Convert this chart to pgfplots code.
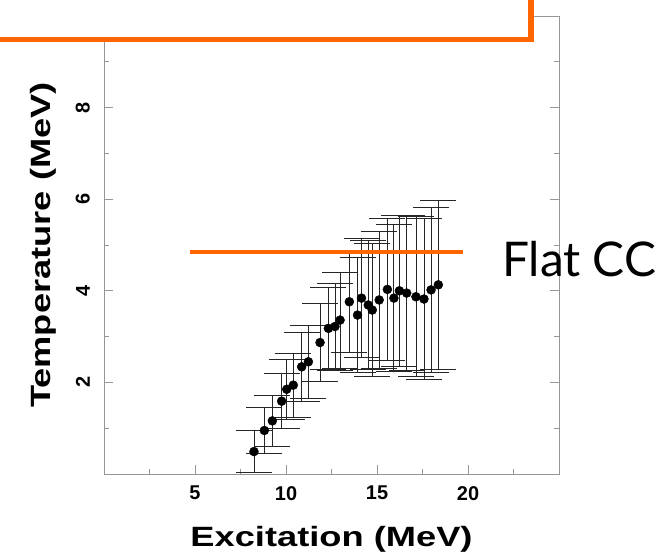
\documentclass[border=0pt]{standalone}
\usepackage{fontspec}
\setmainfont{Liberation Sans}
\newfontfamily\annfont{Lato}
\usepackage{graphicx}
\usepackage{pgfplots}
\usepackage{pgfplotstable}
\pgfplotsset{compat=1.18}
\definecolor{hiorange}{RGB}{255,102,0}
\definecolor{axgray}{RGB}{150,150,150}

% caloric curve: excitation energy, temperature, temperature uncertainty
\pgfplotstableread{
x      y     e
8.24   0.49  0.45
8.81   0.95  0.50
9.25   1.16  0.55
9.76   1.59  0.60
10.04  1.85  0.65
10.40  1.94  0.70
10.86  2.34  0.75
11.23  2.45  0.80
11.87  2.87  0.85
12.33  3.18  0.90
12.69  3.22  0.95
12.97  3.36  1.05
13.48  3.76  1.10
13.93  3.47  1.25
14.15  3.84  1.30
14.52  3.69  1.40
14.74  3.58  1.45
15.12  3.80  1.50
15.57  4.03  1.55
15.93  3.84  1.60
16.23  4.00  1.65
16.63  3.95  1.70
17.14  3.87  1.75
17.58  3.82  1.75
17.97  4.02  1.80
18.37  4.13  1.85
}\caloric

\begin{document}
\begin{tikzpicture}[x=1bp,y=1bp]
\begin{axis}[
  at={(104bp,82bp)}, anchor=south west,
  scale only axis, width=455bp, height=458bp,
  xmin=0, xmax=25, ymin=0, ymax=10,
  xtick={5,10,15,20}, ytick={2,4,6,8},
  minor xtick={2.5,7.5,12.5,17.5,22.5},
  minor ytick={1,3,5,7,9},
  axis line style={axgray, line width=0.8bp},
  tick style={axgray, line width=0.6bp},
  major tick length=9bp, minor tick length=5bp,
  tick align=inside,
  /pgf/number format/assume math mode=true,
  ticklabel style={font=\bfseries\fontsize{20}{20}\selectfont, inner sep=0pt},
  xticklabel style={anchor=north},
  xticklabel shift=12bp,
  yticklabel style={rotate=90, anchor=south},
  yticklabel shift=14bp,
  xlabel={\scalebox{1.3}[1]{Excitation (MeV)}},
  ylabel={\scalebox{1.3}[1]{Temperature (MeV)}},
  xlabel style={font=\bfseries\fontsize{28}{30}\selectfont, inner sep=0pt,
    at={([yshift=-73bp]axis description cs:0.5,0)}, anchor=base},
  ylabel style={font=\bfseries\fontsize{28}{30}\selectfont, inner sep=0pt,
    at={([xshift=-54bp]axis description cs:0,0.5)}, anchor=base},
  clip=false,
]
\addplot[only marks, mark=*, mark size=4.5bp, black,
  error bars/.cd, y dir=both, y explicit, error mark=|,
  error bar style={line width=0.9bp, black!85},
  error mark options={mark size=18bp, line width=1bp, black!85}]
  table[x=x, y=y, y error=e] {\caloric};
% flat caloric curve reference level
\addplot[hiorange, line width=4bp] coordinates {(4.73,4.85) (19.7,4.85)};
\end{axis}
\node[anchor=base west, inner sep=0pt, font=\annfont\fontsize{48}{50}\selectfont] at (502,279) {Flat CC};
\draw[hiorange, line width=5.5bp, fill=white] (-30,516.5) rectangle (531,640);
\pgfresetboundingbox
\useasboundingbox (0,0) rectangle (662,556);
\end{tikzpicture}
\end{document}
